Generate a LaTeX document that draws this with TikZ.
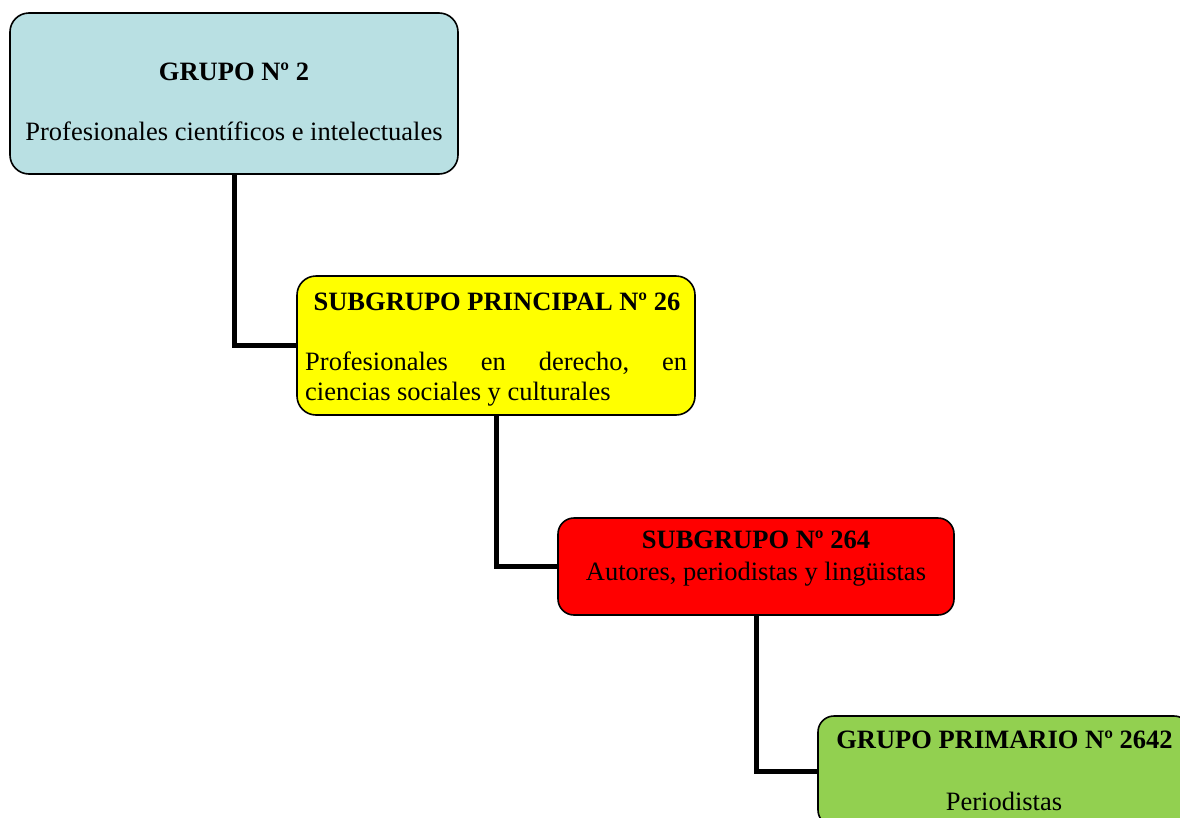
\documentclass[tikz,border=0pt]{standalone}
\usepackage{fontspec}
\setmainfont{Liberation Serif}
\usetikzlibrary{backgrounds}
\definecolor{cblue}{HTML}{B9E0E3}
\definecolor{cyellow}{HTML}{FFFF00}
\definecolor{cred}{HTML}{FF0000}
\definecolor{cgreen}{HTML}{92D050}
\tikzset{
  box/.style={draw=black, line width=1.6pt, rounded corners=19pt, inner sep=0pt},
  link/.style={draw=black, line width=5pt},
  lbl/.style={anchor=base, inner sep=0pt, font=\fontsize{26.5}{30.5}\selectfont},
  head/.style={lbl, font=\fontsize{26.5}{30.5}\selectfont\bfseries}
}
\begin{document}
\begin{tikzpicture}[x=1pt, y=-1pt]
\clip (0,0) rectangle (1180,817);
% boxes
\node[box, fill=cblue, minimum width=448pt, minimum height=161pt] (g2) at (234,93.5) {};
\node[box, fill=cyellow, minimum width=398pt, minimum height=139pt] (s26) at (496,345.5) {};
\node[box, fill=cred, minimum width=396pt, minimum height=97pt, rounded corners=16pt] (s264) at (756,566.5) {};
\node[box, fill=cgreen, minimum width=372pt, minimum height=110pt, rounded corners=16pt] (g2642) at (1004,771) {};
% texts
\node[head] (t1a) at (234,80) {GRUPO Nº 2};
\node[lbl] (t1b) at (234,140) {Profesionales científicos e intelectuales};
\node[head] (t2a) at (497,310) {SUBGRUPO PRINCIPAL Nº 26};
\node[lbl, anchor=base west] (t2b) at (305,370) {\makebox[382pt][s]{Profesionales\hfill en\hfill derecho,\hfill en}};
\node[lbl, anchor=base west] (t2c) at (305,400) {ciencias sociales y culturales};
\node[head] (t3a) at (756,548) {SUBGRUPO Nº 264};
\node[lbl] (t3b) at (756,580) {Autores, periodistas y lingüistas};
\node[head] (t4a) at (1004.5,748) {GRUPO PRIMARIO Nº 2642};
\node[lbl] (t4b) at (1004,810) {Periodistas};
% connectors
\begin{scope}[on background layer]
\fill[white] (0,0) rectangle (1180,817);
\draw[link] (g2.south) |- (s26.west);
\draw[link] (s26.south) |- (s264.west);
\draw[link] (s264.south) |- (g2642.west);
\end{scope}
\end{tikzpicture}
\end{document}
